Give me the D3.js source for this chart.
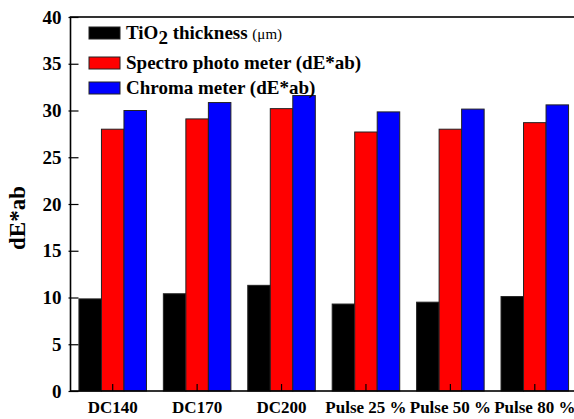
<!DOCTYPE html>
<html>
<head>
<meta charset="utf-8">
<script src="https://cdn.jsdelivr.net/npm/d3@7"></script>
<style>
  body { margin: 0; background: #fff; }
  svg { display: block; }
  text { font-family: "Liberation Serif", "Times New Roman", serif; font-weight: bold; fill: #000; }
</style>
</head>
<body>
<div id="chart"></div>
<script>
// categories and series values
var categories = ["DC140", "DC170", "DC200", "Pulse 25 %", "Pulse 50 %", "Pulse 80 %"];
var seriesNames = ["TiO2 thickness", "Spectro photo meter (dE*ab)", "Chroma meter (dE*ab)"];
var seriesColors = ["#000000", "#ff0000", "#0000ff"];
var thickness = [9.85, 10.4, 11.3, 9.3, 9.5, 10.1];
var spectro = [28.0, 29.1, 30.2, 27.7, 28.0, 28.7];
var chroma = [30.0, 30.85, 31.6, 29.85, 30.15, 30.6];
var yTicks = [0, 5, 10, 15, 20, 25, 30, 35, 40];

var w = 574, h = 419;
var margin = {left: 70.5, top: 17, right: -3, bottom: 28};
var plotW = w - margin.left - margin.right;
var plotH = h - margin.top - margin.bottom;

var svg = d3.select("#chart").append("svg")
  .attr("width", w)
  .attr("height", h);

var g = svg.append("g")
  .attr("transform", "translate(" + margin.left + "," + margin.top + ")");

var x0 = d3.scaleBand()
  .domain(categories)
  .range([0, plotW])
  .paddingInner(0.2)
  .paddingOuter(0.1);

var x1 = d3.scaleBand()
  .domain([0, 1, 2])
  .range([0, x0.bandwidth()]);

var y = d3.scaleLinear()
  .domain([0, 40])
  .range([plotH, 0]);

var rows = categories.map(function(c, i) {
  return {cat: c, values: [thickness[i], spectro[i], chroma[i]]};
});

// bars
var groups = g.selectAll("g.grp")
  .data(rows)
  .enter()
  .append("g")
  .attr("class", "grp")
  .attr("transform", function(d) { return "translate(" + x0(d.cat) + ",0)"; });

groups.selectAll("rect")
  .data(function(d) { return d.values; })
  .enter()
  .append("rect")
  .attr("x", function(d, i) { return x1(i); })
  .attr("y", function(d) { return y(d); })
  .attr("width", x1.bandwidth())
  .attr("height", function(d) { return plotH - y(d); })
  .attr("fill", function(d, i) { return seriesColors[i]; })
  .attr("stroke", "#222")
  .attr("stroke-width", 1);

// y axis: ticks slightly outside, mostly inside
var yAxis = g.append("g")
  .call(d3.axisLeft(y).tickValues(yTicks).tickSizeInner(-8).tickSizeOuter(0).tickPadding(8));
yAxis.select(".domain").remove();
yAxis.selectAll(".tick line").attr("x1", -2).attr("stroke-width", 1.2);
yAxis.selectAll(".tick text")
  .attr("x", -9)
  .style("font-size", "19px")
  .style("font-family", "Liberation Serif")
  .style("font-weight", "bold");

// x axis: ticks pointing inward at group centres
var xAxis = g.append("g")
  .attr("transform", "translate(0," + plotH + ")")
  .call(d3.axisBottom(x0).tickSizeInner(-7).tickSizeOuter(0));
xAxis.select(".domain").remove();
xAxis.selectAll(".tick line").attr("stroke-width", 1.2);
xAxis.selectAll(".tick text")
  .attr("y", 22)
  .attr("dy", 0)
  .style("font-size", "17px")
  .style("font-family", "Liberation Serif")
  .style("font-weight", "bold");

// frame
g.append("rect")
  .attr("x", 0)
  .attr("y", 0)
  .attr("width", plotW)
  .attr("height", plotH)
  .attr("fill", "none")
  .attr("stroke", "#000")
  .attr("stroke-width", 1.6);

// y title
svg.append("text")
  .attr("transform", "translate(25,218) rotate(-90)")
  .attr("text-anchor", "middle")
  .style("font-size", "23px")
  .text("dE*ab");

// legend
var legendY = [27, 57, 82];
var legend = svg.selectAll("g.leg")
  .data(seriesNames)
  .enter()
  .append("g")
  .attr("class", "leg")
  .attr("transform", function(d, i) { return "translate(89," + legendY[i] + ")"; });

legend.append("rect")
  .attr("width", 31)
  .attr("height", 12)
  .attr("fill", function(d, i) { return seriesColors[i]; })
  .attr("stroke", "#222")
  .attr("stroke-width", 1);

legend.append("text")
  .attr("x", 37)
  .attr("y", 11.5)
  .style("font-size", "19px")
  .each(function(d, i) {
    var t = d3.select(this);
    if (i === 0) {
      t.append("tspan").text("TiO");
      t.append("tspan").attr("dy", 5).text("2");
      t.append("tspan").attr("dy", -5).text(" thickness ");
      t.append("tspan").style("font-size", "15px").style("font-weight", "normal").text("(\u03bcm)");
    } else {
      t.text(d);
    }
  });
</script>
</body>
</html>
